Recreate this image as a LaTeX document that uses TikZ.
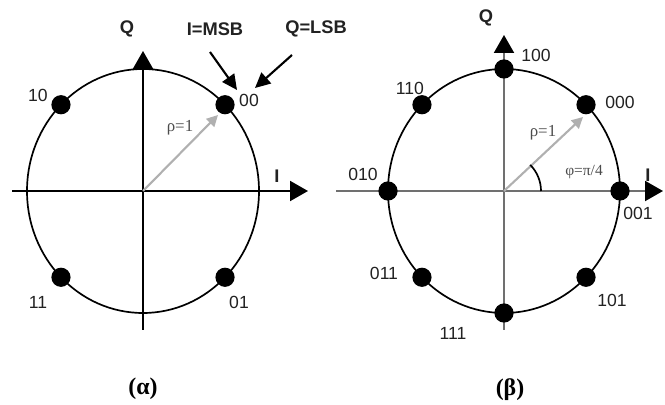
\documentclass[tikz,border=0pt]{standalone}
\usepackage{fontspec}
\setmainfont{Liberation Sans}
\newfontfamily\grfont{Liberation Serif}
\usetikzlibrary{arrows.meta,calc}
\definecolor{axgray}{HTML}{707070}
\definecolor{rhogray}{HTML}{B0B0B0}
\definecolor{txt}{HTML}{222222}
\begin{document}
\begin{tikzpicture}[x=.25mm, y=.25mm, line join=round, text=txt,
	font=\fontsize{12.5}{14}\selectfont,
	>={Triangle[length=4.5mm,width=5mm,color=black,fill=black]},
	dot/.style={circle, fill=black, inner sep=0pt, minimum size=4.8mm},
	axlbl/.style={font=\fontsize{13}{15}\selectfont\bfseries},
	rhoarrow/.style={rhogray, line width=1.5pt, -{Triangle[length=2.8mm,width=2.8mm]}},
	rholbl/.style={font=\grfont\fontsize{12}{14}\selectfont, text=black!70},
	tag/.style={font=\grfont\fontsize{17}{19}\selectfont\bfseries, text=black}]
	\useasboundingbox (0,0) rectangle (665,405);
	% (alpha) QPSK
	\coordinate (c1) at (143,214);
	\coordinate (i1a) at (12,214);	\coordinate (i1b) at (308,214);
	\coordinate (q1a) at (143,75);	\coordinate (q1b) at (143,354);
	\draw[line width=1.2pt] (c1) ellipse [x radius=116, y radius=122];
	\draw[->,line width=1.5pt] (i1a)--(i1b);
	\draw[->,line width=1.5pt] (q1a)--(q1b);
	\node[axlbl] (q1) at (127,376) {Q};
	\node[axlbl] (i1) at (277,229) {I};
	\coordinate (r1) at (218,290);
	\draw[rhoarrow] (c1)--(r1);
	\node[rholbl] (rho1) at (180,277) {ρ=1};
	\node[dot] (s00) at ($(c1)+(45:116 and 122)$) {};
	\node[dot] (s10) at ($(c1)+(135:116 and 122)$) {};
	\node[dot] (s11) at ($(c1)+(225:116 and 122)$) {};
	\node[dot] (s01) at ($(c1)+(315:116 and 122)$) {};
	\node (t00) at (249,305) {00};
	\node (t10) at (38,310) {10};
	\node (t11) at (38,103) {11};
	\node (t01) at (239,103) {01};
	\node[axlbl] (msb) at (215,376) {I=MSB};
	\node[axlbl] (lsb) at (316,376) {Q=LSB};
	\coordinate (msbtip) at (237,315);
	\coordinate (lsbtip) at (255,317);
	\draw[line width=1.5pt,-{Triangle[length=3.8mm,width=3.6mm]}] (210,353)--(msbtip);
	\draw[line width=1.5pt,-{Triangle[length=3.8mm,width=3.6mm]}] (292,350)--(lsbtip);
	\node[tag] (ta) at (143,16) {(α)};
	% (beta) 8-PSK
	\coordinate (c2) at (504,214);
	\coordinate (i2a) at (336,214);	\coordinate (i2b) at (663,214);
	\coordinate (q2a) at (504,75);	\coordinate (q2b) at (504,370);
	\draw[line width=1.2pt] (c2) ellipse [x radius=116, y radius=122];
	\draw[->,axgray,line width=1.5pt] (i2a)--(i2b);
	\draw[->,axgray,line width=1.5pt] (q2a)--(q2b);
	\node[axlbl] (q2) at (486,387) {Q};
	\node[axlbl] (i2) at (648,230) {I};
	\coordinate (r2) at (583,288);
	\draw[rhoarrow] (c2)--(r2);
	\draw[line width=1.2pt] ($(c2)+(37,0)$) arc[start angle=0, end angle=45, radius=37];
	\node[rholbl] (rho2) at (543,272) {ρ=1};
	\node[rholbl,font=\grfont\fontsize{11}{13}\selectfont] (phi) at (584,233) {φ=π/4};
	\node[dot] (p001) at ($(c2)+(0:116 and 122)$) {};
	\node[dot] (p000) at ($(c2)+(45:116 and 122)$) {};
	\node[dot] (p100) at ($(c2)+(90:116 and 122)$) {};
	\node[dot] (p110) at ($(c2)+(135:116 and 122)$) {};
	\node[dot] (p010) at ($(c2)+(180:116 and 122)$) {};
	\node[dot] (p011) at ($(c2)+(225:116 and 122)$) {};
	\node[dot] (p111) at ($(c2)+(270:116 and 122)$) {};
	\node[dot] (p101) at ($(c2)+(315:116 and 122)$) {};
	\node (u100) at (536,350) {100};
	\node (u000) at (620,303) {000};
	\node (u110) at (410,317) {110};
	\node (u010) at (363,231) {010};
	\node (u001) at (638,192) {001};
	\node (u011) at (384,132) {011};
	\node (u101) at (612,105) {101};
	\node (u111) at (453,72) {111};
	\node[tag] (tb) at (510,15) {(β)};
\end{tikzpicture}
\end{document}
